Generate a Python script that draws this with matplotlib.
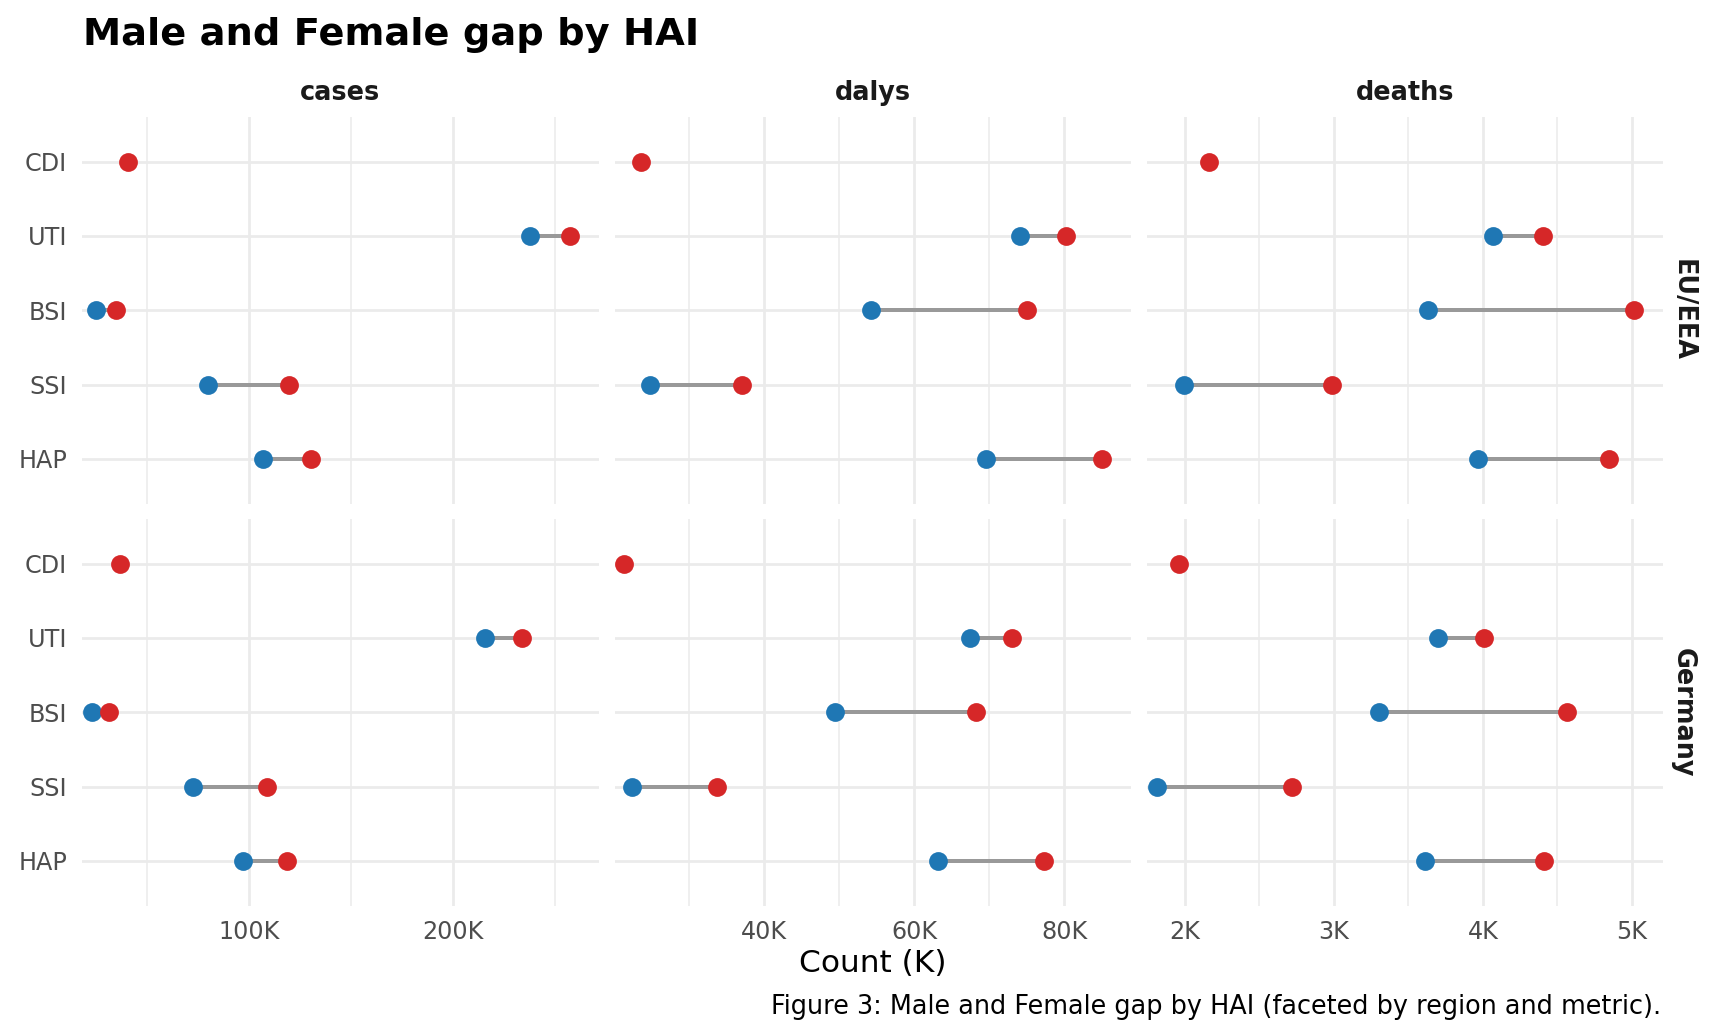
import numpy as np
import matplotlib
matplotlib.use("Agg")
import matplotlib.pyplot as plt
from matplotlib.ticker import MultipleLocator, FuncFormatter

plt.rcParams['font.family'] = ['DejaVu Sans']

# ---------------- data (values in thousands) ----------------
hai = ["CDI", "UTI", "BSI", "SSI", "HAP"]
metrics = ["cases", "dalys", "deaths"]
regions = ["EU/EEA", "Germany"]
nan = np.nan

cases_eu_male = [nan, 237.5, 24.9, 79.6, 106.8]
cases_eu_female = [40.4, 257.4, 34.6, 119.5, 130.5]
cases_de_male = [nan, 215.9, 22.7, 72.4, 97.0]
cases_de_female = [36.7, 234.0, 31.3, 108.8, 118.6]

dalys_eu_male = [nan, 74.1, 54.3, 24.7, 69.6]
dalys_eu_female = [23.5, 80.3, 75.0, 37.0, 85.1]
dalys_de_male = [nan, 67.4, 49.4, 22.4, 63.2]
dalys_de_female = [21.3, 73.0, 68.2, 33.7, 77.3]

deaths_eu_male = [nan, 4.067, 3.634, 1.997, 3.970]
deaths_eu_female = [2.159, 4.406, 5.016, 2.989, 4.849]
deaths_de_male = [nan, 3.699, 3.304, 1.812, 3.608]
deaths_de_female = [1.962, 4.005, 4.562, 2.718, 4.409]

male = {
    ("EU/EEA", "cases"): cases_eu_male, ("Germany", "cases"): cases_de_male,
    ("EU/EEA", "dalys"): dalys_eu_male, ("Germany", "dalys"): dalys_de_male,
    ("EU/EEA", "deaths"): deaths_eu_male, ("Germany", "deaths"): deaths_de_male,
}
female = {
    ("EU/EEA", "cases"): cases_eu_female, ("Germany", "cases"): cases_de_female,
    ("EU/EEA", "dalys"): dalys_eu_female, ("Germany", "dalys"): dalys_de_female,
    ("EU/EEA", "deaths"): deaths_eu_female, ("Germany", "deaths"): deaths_de_female,
}

# axis settings per metric (limits, major step, minor step)
x_limits = {"cases": (18.1, 271.4), "dalys": (20.04, 88.9), "deaths": (1.746, 5.21)}
x_major = {"cases": 100, "dalys": 20, "deaths": 1}
x_minor = {"cases": 50, "dalys": 10, "deaths": 0.5}

title = "Male and Female gap by HAI"
x_title = "Count (K)"
caption = "Figure 3: Male and Female gap by HAI (faceted by region and metric)."

# ---------------- styling / layout ----------------
W, H = 1728, 1036
DPI = 100
fig = plt.figure(figsize=(W / DPI, H / DPI), dpi=DPI)
fig.patch.set_facecolor("white")

col_left = [82.3, 614.6, 1147.0]
panel_w = 516.3
row_top = [117.0, 519.0]
panel_h = 386.6

MALE_C = "#1F77B4"
FEMALE_C = "#D62728"
SEG_C = "#999999"
GRID_C = "#EBEBEB"
TICK_C = "#4D4D4D"
STRIP_C = "#1A1A1A"
px = 72.0 / DPI  # points per pixel

fmt = FuncFormatter(lambda v, p: f"{v:g}K")
ypos = np.arange(len(hai))

for ri, reg in enumerate(regions):
    for ci, met in enumerate(metrics):
        l, t = col_left[ci], row_top[ri]
        ax = fig.add_axes([l / W, 1 - (t + panel_h) / H, panel_w / W, panel_h / H])
        ax.set_facecolor("white")
        for s in ax.spines.values():
            s.set_visible(False)
        m = np.array(male[(reg, met)], dtype=float)
        f = np.array(female[(reg, met)], dtype=float)
        ok = ~np.isnan(m)
        ax.hlines(ypos[ok], m[ok], f[ok], color=SEG_C, linewidth=4 * px, zorder=2)
        ax.scatter(m[ok], ypos[ok], s=(18.8 * px) ** 2, color=MALE_C, linewidths=0, zorder=3)
        ax.scatter(f, ypos, s=(18.8 * px) ** 2, color=FEMALE_C, linewidths=0, zorder=4)

        ax.set_xlim(*x_limits[met])
        ax.set_ylim(len(hai) - 1 + 0.6, -0.6)
        ax.xaxis.set_major_locator(MultipleLocator(x_major[met]))
        ax.xaxis.set_minor_locator(MultipleLocator(x_minor[met]))
        ax.xaxis.set_major_formatter(fmt)
        ax.set_yticks(ypos)
        ax.grid(which="major", color=GRID_C, linewidth=2.7 * px, zorder=0)
        ax.grid(which="minor", axis="x", color=GRID_C, linewidth=1.5 * px, zorder=0)
        ax.set_axisbelow(True)
        ax.tick_params(which="both", length=0)
        ax.tick_params(axis="y", pad=15 * px, labelsize=17.2, labelcolor=TICK_C)
        ax.tick_params(axis="x", pad=14 * px, labelsize=17.2, labelcolor=TICK_C)
        if ci == 0:
            ax.set_yticklabels(hai)
        else:
            ax.set_yticklabels([])
        if ri == 0:
            ax.tick_params(axis="x", labelbottom=False)
            fig.text((l + panel_w / 2) / W, 1 - 100 / H, met, ha="center", va="baseline",
                     fontsize=18.4, fontweight="bold", color=STRIP_C)
    fig.text(1683 / W, 1 - (row_top[ri] + panel_h / 2) / H, reg, rotation=-90,
             ha="center", va="center", fontsize=18.4, fontweight="bold", color=STRIP_C)

fig.text(83 / W, 1 - 45 / H, title, ha="left", va="baseline", fontsize=27.6,
         fontweight="bold", color="black")
fig.text((col_left[0] + col_left[2] + panel_w) / 2 / W, 1 - 963 / H, x_title,
         ha="center", va="center", fontsize=22.5, color="black")
fig.text(1661 / W, 1 - 1014 / H, caption, ha="right", va="baseline", fontsize=18.4,
         color="black")

fig.savefig("out.png", dpi=DPI, facecolor="white")
